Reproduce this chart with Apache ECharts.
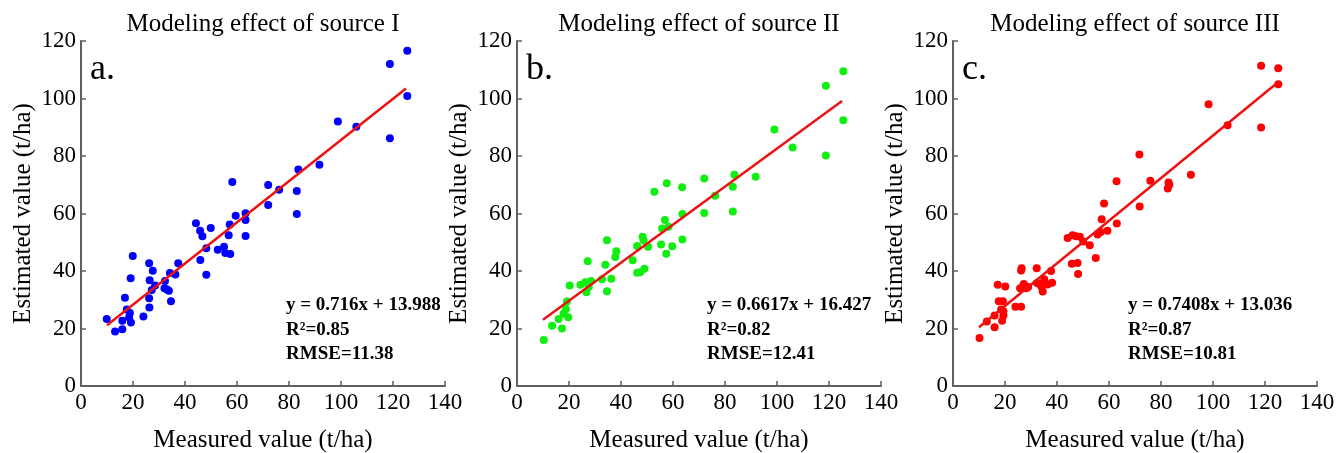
<!DOCTYPE html>
<html>
<head>
<meta charset="utf-8">
<script src="https://cdn.jsdelivr.net/npm/echarts@6/dist/echarts.min.js"></script>
<style>
  html, body { margin: 0; padding: 0; background: #fff; }
  #chart { width: 1338px; height: 453px; }
</style>
</head>
<body>
<div id="chart"></div>
<script>
// 数据：实测值 / 估算值
const measuredA = [9.9, 13.1, 15.9, 15.9, 16.9, 17.6, 18.8, 18.5, 19.2, 19.1, 19.9, 24.0, 26.2, 26.2, 26.4, 26.3, 27.6, 27.2, 28.5, 32.3, 32.1, 33.1, 33.8, 34.2, 34.6, 36.3, 37.4, 44.2, 45.8, 46.7, 45.9, 48.2, 48.2, 49.9, 52.6, 55.0, 55.5, 57.4, 56.8, 57.2, 59.5, 63.3, 63.3, 63.3, 58.2, 125.5, 118.8, 125.5, 118.8, 98.8, 105.9, 91.7, 83.6, 72.0, 76.2, 83.0, 72.0, 83.0];
const estimatedA = [23.3, 19.0, 22.7, 19.7, 30.7, 26.6, 25.4, 23.9, 22.1, 37.5, 45.2, 24.2, 42.7, 30.5, 36.8, 27.3, 40.1, 33.4, 35.0, 36.5, 34.0, 33.6, 33.1, 39.3, 29.5, 38.8, 42.7, 56.6, 54.0, 52.1, 43.8, 47.9, 38.7, 55.0, 47.4, 48.4, 46.3, 45.9, 52.4, 56.2, 59.2, 60.1, 57.7, 52.2, 71.0, 116.6, 112.0, 100.9, 86.2, 92.0, 90.2, 77.0, 75.3, 69.9, 68.3, 67.8, 63.0, 59.8];

const measuredB = [10.3, 13.5, 16.0, 17.3, 17.9, 18.8, 19.2, 19.7, 20.3, 24.4, 26.3, 26.7, 27.2, 27.6, 28.5, 32.7, 34.0, 34.6, 34.6, 36.3, 37.8, 38.2, 44.5, 46.2, 46.2, 47.4, 48.3, 48.7, 49.0, 50.4, 55.4, 55.8, 56.9, 57.4, 58.3, 59.7, 63.6, 63.6, 52.8, 57.6, 63.5, 125.5, 118.8, 125.5, 118.8, 99.0, 106.0, 91.8, 83.6, 83.0, 72.0, 76.2, 72.0, 83.0];
const estimatedB = [16.0, 21.0, 23.3, 20.0, 25.1, 26.8, 29.4, 23.9, 35.0, 35.2, 36.1, 32.6, 43.4, 34.4, 36.5, 37.1, 42.2, 50.7, 33.0, 37.3, 44.9, 46.9, 43.7, 48.7, 39.4, 39.6, 51.9, 50.7, 40.8, 48.4, 49.2, 54.8, 57.7, 46.0, 55.4, 48.6, 59.8, 51.0, 67.6, 70.5, 69.1, 109.5, 104.4, 92.4, 80.2, 89.2, 83.0, 72.8, 73.5, 69.3, 72.2, 66.2, 60.2, 60.7];

const measuredC = [10.2, 13.0, 16.0, 16.0, 17.2, 17.6, 18.5, 18.9, 19.2, 19.4, 19.4, 20.1, 24.0, 26.2, 25.8, 26.2, 26.4, 27.2, 28.1, 28.9, 32.2, 32.3, 33.2, 34.1, 34.5, 35.1, 36.4, 37.7, 38.1, 44.1, 46.0, 45.7, 47.9, 48.1, 47.3, 48.8, 50.1, 52.6, 54.9, 55.6, 56.8, 57.2, 58.1, 59.4, 63.0, 62.9, 118.5, 125.1, 125.1, 118.5, 98.3, 105.6, 91.5, 82.9, 83.2, 82.6, 75.9, 71.7, 71.8];
const estimatedC = [16.7, 22.4, 20.4, 24.5, 35.2, 29.5, 26.6, 22.7, 29.5, 24.5, 26.0, 34.6, 27.6, 27.6, 34.0, 40.2, 41.0, 35.5, 34.0, 34.4, 41.0, 35.8, 35.5, 34.4, 32.9, 37.1, 35.3, 40.0, 35.9, 51.5, 52.4, 42.5, 42.8, 39.0, 52.1, 51.9, 50.3, 49.0, 44.5, 52.7, 53.6, 58.0, 63.5, 54.0, 56.5, 71.2, 111.4, 110.5, 105.0, 89.9, 98.0, 90.7, 73.5, 70.8, 70.0, 68.7, 71.4, 80.5, 62.4];

// 拟合线参数
const slopes = [0.716, 0.6617, 0.7408];
const intercepts = [13.988, 16.427, 13.036];
const fitRange = [10, 125];

const titles = ["Modeling effect of source I", "Modeling effect of source II", "Modeling effect of source III"];
const letters = ["a.", "b.", "c."];
const equations = ["y = 0.716x + 13.988", "y = 0.6617x + 16.427", "y = 0.7408x + 13.036"];
const r2s = ["R²=0.85", "R²=0.82", "R²=0.87"];
const rmses = ["RMSE=11.38", "RMSE=12.41", "RMSE=10.81"];
const dotColors = ["#0000ff", "#11ee11", "#ff0000"];

const measured = [measuredA, measuredB, measuredC];
const estimated = [estimatedA, estimatedB, estimatedC];

const FONT = "Liberation Serif";
const gridLefts = [81, 517, 953];
const textOffsets = [205, 190, 175];
const gridW = 364;
const gridTop = 41;
const gridH = 345;
const axisColor = "#606060";

let myChart = echarts.init(document.getElementById("chart"));

const grids = [], xAxes = [], yAxes = [], series = [], titleList = [], graphics = [];

for (let i = 0; i < 3; i++) {
	grids.push({ left: gridLefts[i], top: gridTop, width: gridW, height: gridH, outerBoundsMode: "none", containLabel: false });

	xAxes.push({
		gridIndex: i,
		type: "value",
		min: 0,
		max: 140,
		interval: 20,
		name: "Measured value (t/ha)",
		nameLocation: "middle",
		nameGap: 42,
		nameTextStyle: { fontFamily: FONT, fontSize: 25, color: "#000" },
		axisLine: { lineStyle: { color: axisColor, width: 2 } },
		axisTick: { inside: true, length: 5, lineStyle: { color: axisColor, width: 1.5 } },
		axisLabel: { fontFamily: FONT, fontSize: 23, color: "#000", margin: 5 },
		splitLine: { show: false },
	});

	yAxes.push({
		gridIndex: i,
		type: "value",
		min: 0,
		max: 120,
		interval: 20,
		name: "Estimated value (t/ha)",
		nameLocation: "middle",
		nameGap: 45,
		nameRotate: 90,
		nameTextStyle: { fontFamily: FONT, fontSize: 25, color: "#000" },
		axisLine: { show: true, lineStyle: { color: axisColor, width: 2 } },
		axisTick: { show: true, inside: true, length: 5, lineStyle: { color: axisColor, width: 1.5 } },
		axisLabel: { fontFamily: FONT, fontSize: 23, color: "#000", margin: 5 },
		splitLine: { show: false },
	});

	// 散点
	series.push({
		type: "scatter",
		xAxisIndex: i,
		yAxisIndex: i,
		symbolSize: 8,
		itemStyle: { color: dotColors[i], opacity: 1 },
		data: measured[i].map((x, k) => [x, estimated[i][k]]),
		z: 2,
	});

	// 拟合直线
	series.push({
		type: "line",
		xAxisIndex: i,
		yAxisIndex: i,
		symbol: "none",
		lineStyle: { color: "#ee1111", width: 2.5 },
		data: fitRange.map((x) => [x, slopes[i] * x + intercepts[i]]),
		z: 3,
	});

	titleList.push({
		text: titles[i],
		left: gridLefts[i] + gridW / 2 - 5,
		textAlign: "center",
		top: 7,
		textStyle: { fontFamily: FONT, fontSize: 25, fontWeight: "normal", color: "#000" },
	});

	graphics.push({
		type: "text",
		left: gridLefts[i] + 9,
		top: 52,
		style: { text: letters[i], font: "36px '" + FONT + "'", fill: "#000" },
	});

	graphics.push({
		type: "text",
		left: gridLefts[i] + textOffsets[i],
		top: 293,
		style: {
			text: [equations[i], r2s[i], rmses[i]].join("\n"),
			font: "bold 19px '" + FONT + "'",
			lineHeight: 24.5,
			fill: "#000",
		},
	});
}

const option = {
	animation: false,
	backgroundColor: "#fff",
	title: titleList,
	grid: grids,
	xAxis: xAxes,
	yAxis: yAxes,
	series: series,
	graphic: graphics,
};

myChart.setOption(option);
</script>
</body>
</html>
